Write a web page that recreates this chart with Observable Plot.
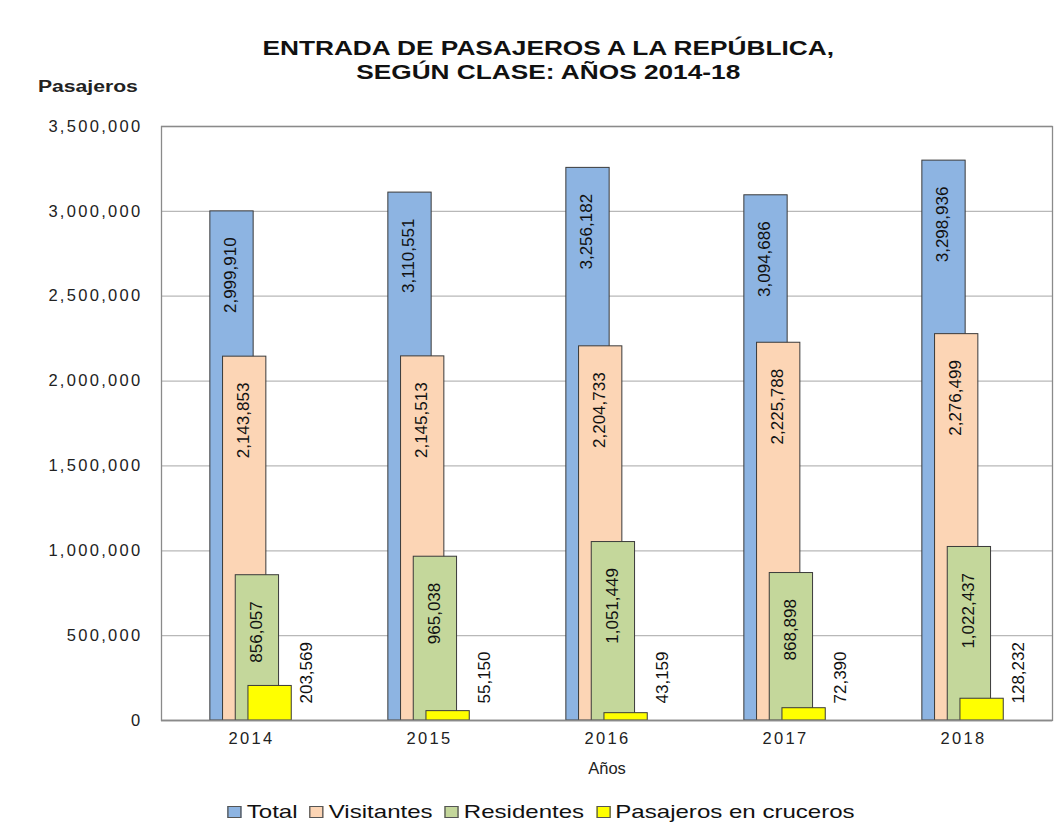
<!DOCTYPE html>
<html><head><meta charset="utf-8">
<script src="https://cdn.jsdelivr.net/npm/d3@7"></script>
<script src="https://cdn.jsdelivr.net/npm/@observablehq/plot@0.6"></script>
<style>
body{margin:0;background:#fff;font-family:"Liberation Sans",Arial,sans-serif;color:#111;}
#wrap{position:relative;width:1058px;height:835px;overflow:hidden;}
#title{position:absolute;top:36px;left:38px;width:1020px;text-align:center;}
#title span{display:inline-block;font-weight:bold;font-size:20.5px;line-height:24px;transform:scaleX(1.28);transform-origin:center;}
#ylab{position:absolute;left:38px;top:76px;font-size:16px;font-weight:bold;line-height:22px;transform:scaleX(1.32);transform-origin:left center;color:#222;}
#chart{position:absolute;left:0;top:100px;}
#legend{position:absolute;top:799px;left:36px;width:1022px;text-align:center;}
#legend .inner{display:inline-block;transform:scaleX(1.3);transform-origin:center;font-size:18.5px;line-height:26px;white-space:nowrap;}
#legend .sw{display:inline-block;width:9px;height:10px;border:1px solid #555;margin-right:4px;vertical-align:0px;}
#legend .it{margin-right:9px;}
svg [aria-label="y-axis tick label"] text, svg [aria-label="x-axis tick label"] text{letter-spacing:2.3px;}
</style></head>
<body><div id="wrap">
<div id="title"><span>ENTRADA DE PASAJEROS A LA REPÚBLICA,<br>SEGÚN CLASE: AÑOS 2014-18</span></div>
<div id="ylab">Pasajeros</div>
<div id="chart"></div>
<div id="legend"><div class="inner"></div></div>
</div>
<script>
const years = ["2014", "2015", "2016", "2017", "2018"];
const series = ["Total", "Visitantes", "Residentes", "Pasajeros en cruceros"];
const total = [2999910, 3110551, 3256182, 3094686, 3298936];
const visitantes = [2143853, 2145513, 2204733, 2225788, 2276499];
const residentes = [856057, 965038, 1051449, 868898, 1022437];
const cruceros = [203569, 55150, 43159, 72390, 128232];
const yTicks = [0, 500000, 1000000, 1500000, 2000000, 2500000, 3000000, 3500000];

const colors = ["#8DB4E2", "#FCD5B5", "#C4D79B", "#FFFF00"];
const offsets = [-19.5, -6.8, 5.9, 18.6];
const valueLists = [total, visitantes, residentes, cruceros];
const fmt = d3.format(",");

const tables = valueLists.map((vals, s) => years.map((y, i) => ({year: y, series: series[s], value: vals[i]})));

const W = 1058, ML = 161, MR = 6;
const bw = (W - ML - MR) / years.length;
const barW = 43.5;
const inset = (bw - barW) / 2;

const marks = [
  Plot.gridY(yTicks, {stroke: "#b8b8b8", strokeOpacity: 1, strokeWidth: 1.3}),
  Plot.frame({stroke: "#8a8a8a", strokeWidth: 1.3}),
];
tables.forEach((t, s) => {
  marks.push(Plot.barY(t, {x: "year", y: "value", fill: colors[s], stroke: "#3a3a3a", strokeWidth: 1, dx: offsets[s], insetLeft: inset, insetRight: inset}));
});
tables.slice(0, 3).forEach((t, s) => {
  marks.push(Plot.text(t, {x: "year", y: "value", text: d => fmt(d.value), rotate: -90, textAnchor: "end", dy: 26, dx: offsets[s] - 1, fontSize: 17, fill: "#111"}));
});
marks.push(Plot.text(tables[3], {x: "year", text: d => fmt(d.value), frameAnchor: "bottom", rotate: -90, textAnchor: "start", dy: -17, dx: 60, fontSize: 17, fill: "#111"}));
marks.push(Plot.ruleY([0], {stroke: "#8a8a8a", strokeWidth: 1.3}));
marks.push(Plot.axisY({ticks: yTicks, tickFormat: fmt, tickSize: 0, tickPadding: 19, fontSize: 16.5, label: null, fill: "#222"}));
marks.push(Plot.axisX({tickSize: 0, tickPadding: 12, fontSize: 16.5, label: null, fill: "#222"}));
marks.push(Plot.text(["Años"], {frameAnchor: "bottom", dy: 53, fontSize: 16.5, fill: "#222", text: d => d}));

const chart = Plot.plot({
  width: W,
  height: 700,
  marginLeft: ML,
  marginRight: MR,
  marginTop: 26,
  marginBottom: 80,
  style: {fontFamily: "'Liberation Sans',Arial,sans-serif", background: "#fff"},
  x: {domain: years, padding: 0, label: null},
  y: {domain: [0, 3500000], label: null},
  marks
});
document.getElementById("chart").appendChild(chart);

const leg = document.querySelector("#legend .inner");
series.forEach((s, i) => {
  const it = document.createElement("span");
  it.className = "it";
  const sw = document.createElement("span");
  sw.className = "sw";
  sw.style.background = colors[i];
  it.appendChild(sw);
  it.appendChild(document.createTextNode(s));
  leg.appendChild(it);
});
</script>
</body></html>
